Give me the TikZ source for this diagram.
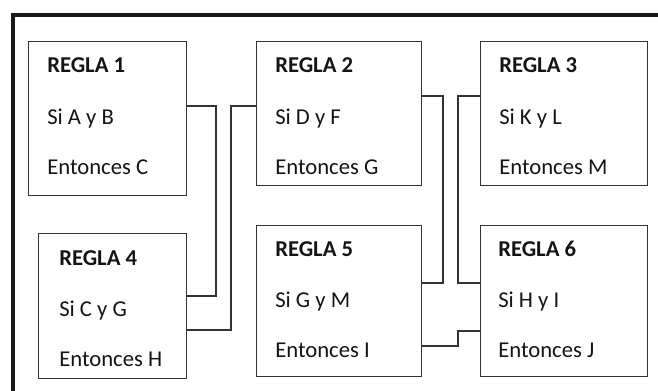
\documentclass[tikz,border=0pt]{standalone}
\usepackage{fontspec}
\setmainfont{Carlito}
\usepackage{tikz}

\begin{document}
\begin{tikzpicture}[x=0.75pt,y=-0.75pt,
    regla/.style={draw=black!80, line width=1.1pt, anchor=north west, inner sep=0pt},
    texto/.style={anchor=base west, inner sep=0pt, text=black!92, font=\fontsize{17}{20}\selectfont},
    enlace/.style={draw=black!80, line width=1.1pt}]
    \clip (0,0) rectangle (658,391);
    % marco exterior
    \draw[line width=2.4pt, black!90] (13,15) rectangle (680,420);

    % reglas
    \node[regla, minimum width=118.5pt, minimum height=115.5pt] (r1) at (28,41) {};
    \node[regla, minimum width=123.75pt, minimum height=108pt] (r2) at (256,41) {};
    \node[regla, minimum width=125.25pt, minimum height=108pt] (r3) at (480,41) {};
    \node[regla, minimum width=111pt, minimum height=108.75pt] (r4) at (38,233) {};
    \node[regla, minimum width=123.75pt, minimum height=113.25pt] (r5) at (256,225) {};
    \node[regla, minimum width=125.25pt, minimum height=113.25pt] (r6) at (480,225) {};

    % textos
    \node[texto] (t1a) at (47,73) {\textbf{REGLA 1}};
    \node[texto] (t1b) at (47,124.5) {Si A y B};
    \node[texto] (t1c) at (47,174.5) {Entonces C};
    \node[texto] (t2a) at (275,73) {\textbf{REGLA 2}};
    \node[texto] (t2b) at (275,124.5) {Si D y F};
    \node[texto] (t2c) at (275,174.5) {Entonces G};
    \node[texto] (t3a) at (499,73) {\textbf{REGLA 3}};
    \node[texto] (t3b) at (499,124.5) {Si K y L};
    \node[texto] (t3c) at (499,174.5) {Entonces M};
    \node[texto] (t4a) at (59,266) {\textbf{REGLA 4}};
    \node[texto] (t4b) at (59,316.5) {Si C y G};
    \node[texto] (t4c) at (59,366.5) {Entonces H};
    \node[texto] (t5a) at (275,257) {\textbf{REGLA 5}};
    \node[texto] (t5b) at (275,308) {Si G y M};
    \node[texto] (t5c) at (275,358) {Entonces I};
    \node[texto] (t6a) at (498,257) {\textbf{REGLA 6}};
    \node[texto] (t6b) at (498,308) {Si H y I};
    \node[texto] (t6c) at (498,358) {Entonces J};

    % enlaces
    \draw[enlace] (r1.east |- 0,106) -| (216,296) -- (r4.east |- 0,296);
    \draw[enlace] (r2.west |- 0,106) -| (231,330) -- (r4.east |- 0,330);
    \draw[enlace] (r2.east |- 0,96) -| (443,283) -- (r5.east |- 0,283);
    \draw[enlace] (r3.west |- 0,96) -| (458,283) -- (r6.west |- 0,283);
    \draw[enlace] (r5.east |- 0,346) -| (458,331) -- (r6.west |- 0,331);
\end{tikzpicture}
\end{document}
